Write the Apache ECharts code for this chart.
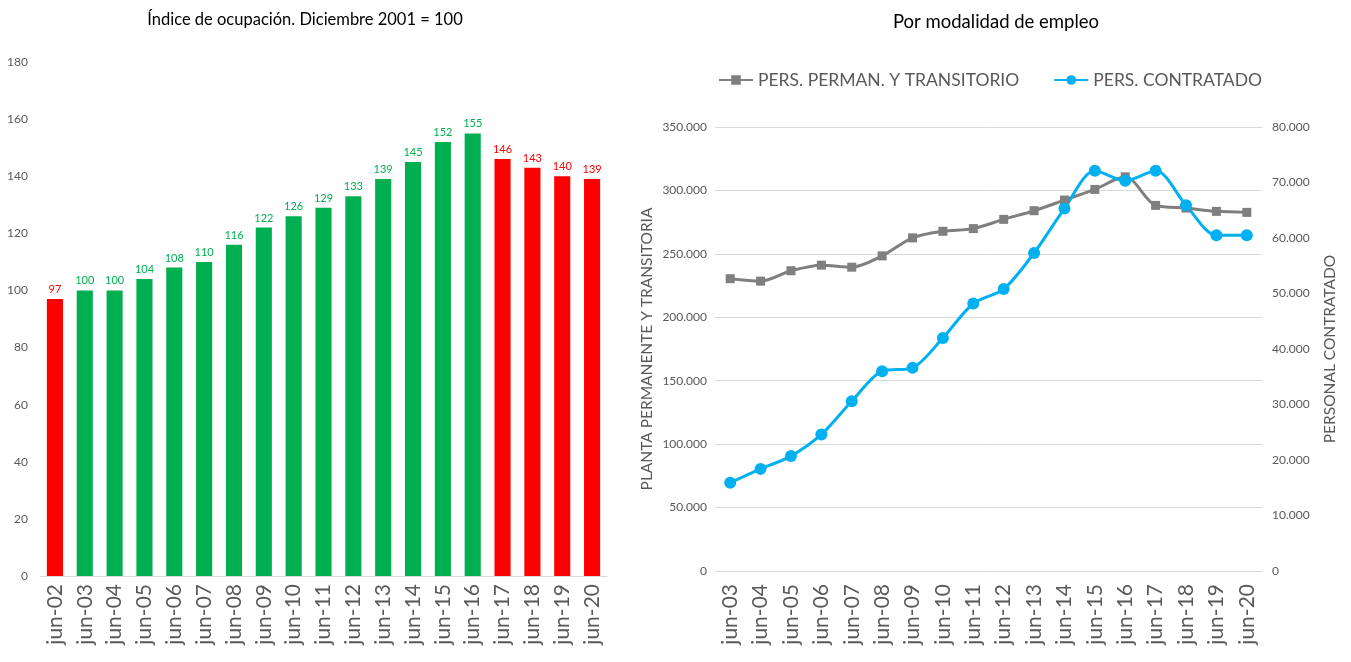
<!DOCTYPE html>
<html>
<head>
<meta charset="utf-8">
<script src="https://cdn.jsdelivr.net/npm/echarts@6/dist/echarts.min.js"></script>
<style>
  html, body { margin: 0; padding: 0; background: #fff; }
  #chart { width: 1351px; height: 662px; }
</style>
</head>
<body>
<div id="chart"></div>
<script>
// Índice de ocupación (Diciembre 2001 = 100)
const indexBase = 100;
const barCats = ['jun-02', 'jun-03', 'jun-04', 'jun-05', 'jun-06', 'jun-07', 'jun-08', 'jun-09', 'jun-10',
    'jun-11', 'jun-12', 'jun-13', 'jun-14', 'jun-15', 'jun-16', 'jun-17', 'jun-18', 'jun-19', 'jun-20'];
const barValues = [97, 100, 100, 104, 108, 110, 116, 122, 126, 129, 133, 139, 145, 152, 155, 146, 143, 140, 139];

// Por modalidad de empleo
const lineCats = ['jun-03', 'jun-04', 'jun-05', 'jun-06', 'jun-07', 'jun-08', 'jun-09', 'jun-10', 'jun-11',
    'jun-12', 'jun-13', 'jun-14', 'jun-15', 'jun-16', 'jun-17', 'jun-18', 'jun-19', 'jun-20'];
const permValues = [230400, 228500, 236700, 241100, 239500, 248400, 262600, 267800, 269900,
    277200, 284000, 292400, 300800, 310700, 288200, 286100, 283500, 282700];
const contrValues = [15900, 18400, 20700, 24600, 30600, 36000, 36600, 42000, 48200,
    50800, 57300, 65300, 72100, 70300, 72100, 65900, 60500, 60500];

const FONT = 'Lato, "Open Sans", sans-serif';
const GREEN = '#00b050';
const RED = '#ff0000';
const GREY_TXT = '#595959';

// separador de miles con punto
function fmtMiles(v) {
    return String(v).replace(/\B(?=(\d{3})+(?!\d))/g, '.');
}

// rojo si baja respecto al periodo anterior
const barData = barValues.map((v, i) => {
    const prev = i === 0 ? indexBase : barValues[i - 1];
    const c = v < prev ? RED : GREEN;
    return { value: v, itemStyle: { color: c }, label: { color: c } };
});

const chartObj = echarts.init(document.getElementById('chart'));
chartObj.setOption({
    animation: false,
    textStyle: { fontFamily: FONT },
    title: [
        {
            text: 'Índice de ocupación. Diciembre 2001 = 100',
            left: 300, top: 6, textAlign: 'center',
            textStyle: { fontSize: 16.5, fontWeight: 'normal', color: '#000', fontFamily: FONT }
        },
        {
            text: 'Por modalidad de empleo',
            left: 991, top: 8, textAlign: 'center',
            textStyle: { fontSize: 18.5, fontWeight: 'normal', color: '#000', fontFamily: FONT }
        }
    ],
    legend: {
        left: 713, top: 66,
        itemWidth: 34, itemHeight: 12, itemGap: 34,
        textStyle: { fontSize: 17.5, color: GREY_TXT, fontFamily: FONT },
        data: ['PERS. PERMAN. Y TRANSITORIO', 'PERS. CONTRATADO']
    },
    grid: [
        { left: 40, right: 744, top: 62, bottom: 86 },
        { left: 715, right: 89, top: 127, bottom: 91 }
    ],
    xAxis: [
        {
            type: 'category', gridIndex: 0, data: barCats,
            axisLine: { lineStyle: { color: '#d9d9d9' } },
            axisTick: { show: false },
            axisLabel: { rotate: 90, interval: 0, fontSize: 21, color: GREY_TXT, margin: 8 }
        },
        {
            type: 'category', gridIndex: 1, data: lineCats,
            axisLine: { show: false },
            axisTick: { show: false },
            axisLabel: { rotate: 90, interval: 0, fontSize: 21, color: GREY_TXT, margin: 13 }
        }
    ],
    yAxis: [
        {
            type: 'value', gridIndex: 0, min: 0, max: 180, interval: 20,
            splitLine: { show: false },
            axisLine: { show: false }, axisTick: { show: false },
            axisLabel: { fontSize: 12, color: GREY_TXT, margin: 12 }
        },
        {
            type: 'value', gridIndex: 1, min: 0, max: 350000, interval: 50000,
            name: 'PLANTA PERMANENTE Y TRANSITORIA',
            nameLocation: 'middle', nameGap: 60,
            nameTextStyle: { fontSize: 15.5, color: GREY_TXT },
            splitLine: { lineStyle: { color: '#d9d9d9' } },
            axisLine: { show: false }, axisTick: { show: false },
            axisLabel: { fontSize: 12, color: GREY_TXT, margin: 8, formatter: fmtMiles }
        },
        {
            type: 'value', gridIndex: 1, min: 0, max: 80000, interval: 10000,
            position: 'right',
            name: 'PERSONAL CONTRATADO',
            nameLocation: 'middle', nameGap: 60, nameRotate: 90,
            nameTextStyle: { fontSize: 15.5, color: GREY_TXT },
            splitLine: { show: false },
            axisLine: { show: false }, axisTick: { show: false },
            axisLabel: { fontSize: 12, color: GREY_TXT, margin: 10, formatter: fmtMiles }
        }
    ],
    series: [
        {
            type: 'bar', xAxisIndex: 0, yAxisIndex: 0,
            data: barData,
            barCategoryGap: '46%',
            label: { show: true, position: 'top', fontSize: 11, distance: 4 }
        },
        {
            name: 'PERS. PERMAN. Y TRANSITORIO',
            type: 'line', xAxisIndex: 1, yAxisIndex: 1,
            data: permValues,
            smooth: 0.3,
            symbol: 'rect', symbolSize: 9,
            itemStyle: { color: '#7f7f7f' },
            lineStyle: { color: '#7f7f7f', width: 3 }
        },
        {
            name: 'PERS. CONTRATADO',
            type: 'line', xAxisIndex: 1, yAxisIndex: 2,
            data: contrValues,
            smooth: 0.3,
            symbol: 'circle', symbolSize: 12,
            itemStyle: { color: '#00b0f0' },
            lineStyle: { color: '#00b0f0', width: 3 }
        }
    ]
});
</script>
</body>
</html>
